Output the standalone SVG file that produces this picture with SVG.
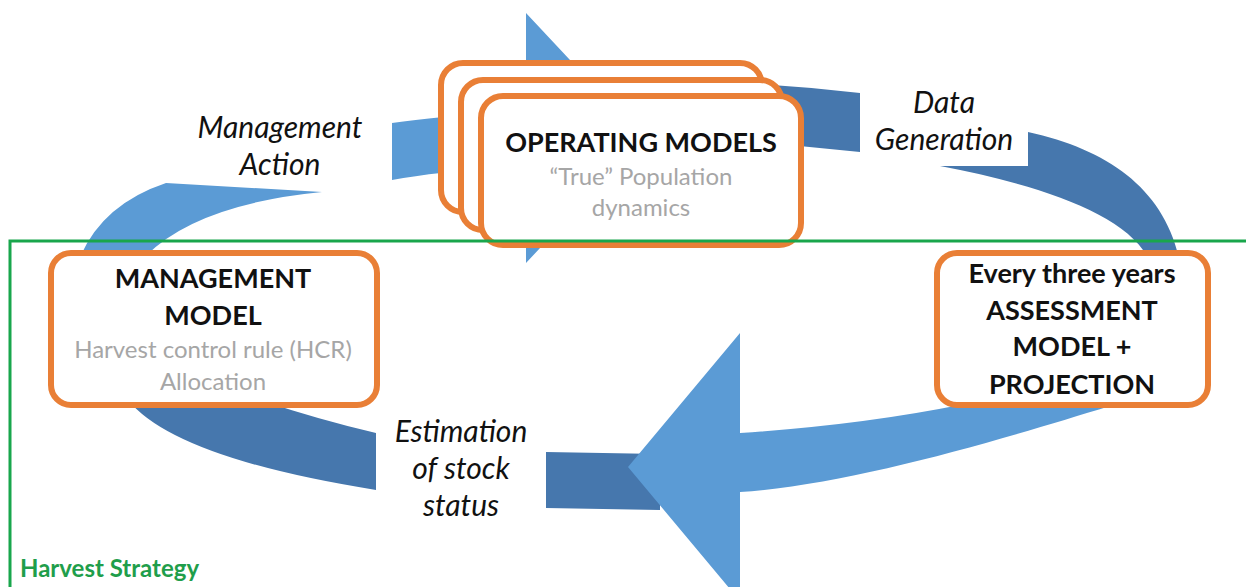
<svg xmlns="http://www.w3.org/2000/svg" width="1246" height="587" viewBox="0 0 1246 587">
<style>
.light{fill:#5B9BD5}
.dark{fill:#4677AD}
.box{fill:#fff;stroke:#E97F36;stroke-width:6}
.t{font-family:Lato,"Open Sans",sans-serif;text-anchor:middle}
.title{font-weight:bold;font-size:27px;fill:#111}
.sub{font-size:24px;fill:#A6A6A6}
.lab{font-style:italic;font-size:30px;fill:#111}
.hs{font-family:Lato,"Open Sans",sans-serif;font-weight:bold;font-size:24px;fill:#1F9E4B}
.frame{fill:none;stroke:#19A64C;stroke-width:3}
</style>
<rect width="1246" height="587" fill="#fff"/>
<g id="connectors">
<path class="light" d="M392,123 Q440,116 526,111 L526,13 L643,138 L526,263 L526,166 Q440,171 392,180 Z"/>
<path class="light" d="M322,192 L166,183 Q100,205 78,262 L78,285 L140,285 L140,262 Q190,205 322,192 Z"/>
<path class="dark" d="M740,83 Q800,86 860,93 L860,152 Q800,146 740,140 Z"/>
<path class="dark" d="M1028,132 C1110,150 1165,190 1180,262 L1150,262 C1130,215 1040,185 940,166 L1028,166 Z"/>
<path class="dark" d="M128,400 Q175,458 376,490 L376,433 Q320,420 260,400 Z"/>
<path class="dark" d="M546,452 L660,454 L660,510 L546,508 Z"/>
<path class="light" d="M740,333 L740,433 Q860,425 960,405 L1120,392 L1110,406 C1000,440 850,485 740,492 L740,601 L628,467 Z"/>
</g>
<g id="operating-models">
<rect class="box" x="441" y="63" width="321" height="149" rx="22"/>
<rect class="box" x="461" y="80" width="321" height="150" rx="22"/>
<rect class="box" x="481" y="96" width="320" height="149" rx="22"/>
<text class="t title" x="641" y="152">OPERATING MODELS</text>
<text class="t sub" x="641" y="185">“True” Population</text>
<text class="t sub" x="641" y="216">dynamics</text>
</g>
<g id="management-model">
<rect class="box" x="51" y="253" width="326" height="152" rx="20"/>
<text class="t title" x="213" y="288">MANAGEMENT</text>
<text class="t title" x="213" y="325">MODEL</text>
<text class="t sub" x="213" y="358">Harvest control rule (HCR)</text>
<text class="t sub" x="213" y="390">Allocation</text>
</g>
<g id="assessment-model">
<rect class="box" x="937" y="253" width="271" height="152" rx="20"/>
<text class="t title" x="1072" y="283">Every three years</text>
<text class="t title" x="1072" y="320">ASSESSMENT</text>
<text class="t title" x="1072" y="356">MODEL +</text>
<text class="t title" x="1072" y="394">PROJECTION</text>
</g>
<g id="labels">
<text class="t lab" x="280" y="138">Management</text>
<text class="t lab" x="280" y="175">Action</text>
<text class="t lab" x="944" y="113">Data</text>
<text class="t lab" x="944" y="150">Generation</text>
<text class="t lab" x="461" y="442">Estimation</text>
<text class="t lab" x="461" y="479">of stock</text>
<text class="t lab" x="461" y="516">status</text>
</g>
<g id="harvest-strategy">
<path class="frame" d="M10,587 L10,241 L1246,241"/>
<text class="hs" x="20" y="577">Harvest Strategy</text>
</g>
</svg>
